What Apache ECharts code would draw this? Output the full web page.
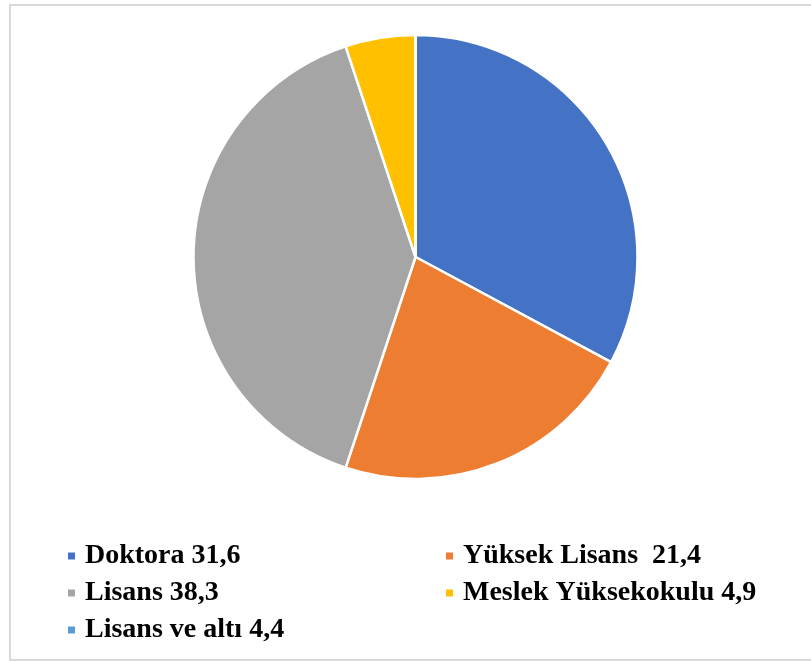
<!DOCTYPE html>
<html>
<head>
<meta charset="utf-8">
<script src="https://cdn.jsdelivr.net/npm/echarts@6/dist/echarts.min.js"></script>
<style>
html,body{margin:0;padding:0;background:#fff;}
#chart{width:811px;height:661px;}
</style>
</head>
<body>
<div id="chart"></div>
<script>
var categories = ['Doktora', 'Yüksek Lisans', 'Lisans', 'Meslek Yüksekokulu', 'Lisans ve altı'];
var pieValues = [31.6, 21.4, 38.3, 4.9, 0];
var legendLabels = ['Doktora 31,6', 'Yüksek Lisans  21,4', 'Lisans 38,3', 'Meslek Yüksekokulu 4,9', 'Lisans ve altı 4,4'];
var colors = ['#4472C4', '#ED7D31', '#A5A5A5', '#FFC000', '#5B9BD5'];

var labelMap = {};
categories.forEach(function (c, i) { labelMap[c] = legendLabels[i]; });

var chart = echarts.init(document.getElementById('chart'), null, { renderer: 'canvas' });
var legendText = { color: '#000', fontFamily: 'Liberation Serif', fontWeight: 'bold', fontSize: 28, lineHeight: 28, padding: [0, 0, 0, 4] };
chart.setOption({
  animation: false,
  color: colors,
  graphic: [{
    type: 'rect',
    shape: { x: 10, y: 5, width: 900, height: 655 },
    style: { fill: 'none', stroke: '#d9d9d9', lineWidth: 2 },
    silent: true
  }],
  legend: [{
    orient: 'vertical',
    left: 66,
    top: 542,
    padding: 0,
    itemWidth: 9,
    itemHeight: 9,
    itemGap: 9,
    icon: 'rect',
    data: [categories[0], categories[2], categories[4]],
    formatter: function (n) { return labelMap[n]; },
    textStyle: legendText
  }, {
    orient: 'vertical',
    left: 444,
    top: 542,
    padding: 0,
    itemWidth: 9,
    itemHeight: 9,
    itemGap: 9,
    icon: 'rect',
    data: [categories[1], categories[3]],
    formatter: function (n) { return labelMap[n]; },
    textStyle: legendText
  }],
  series: [{
    type: 'pie',
    center: [415.5, 257],
    radius: 222,
    startAngle: 90,
    clockwise: true,
    label: { show: false },
    labelLine: { show: false },
    itemStyle: { borderColor: '#fff', borderWidth: 2.5 },
    emphasis: { disabled: true },
    data: categories.map(function (c, i) { return { name: c, value: pieValues[i] }; })
  }]
});
</script>
</body>
</html>
